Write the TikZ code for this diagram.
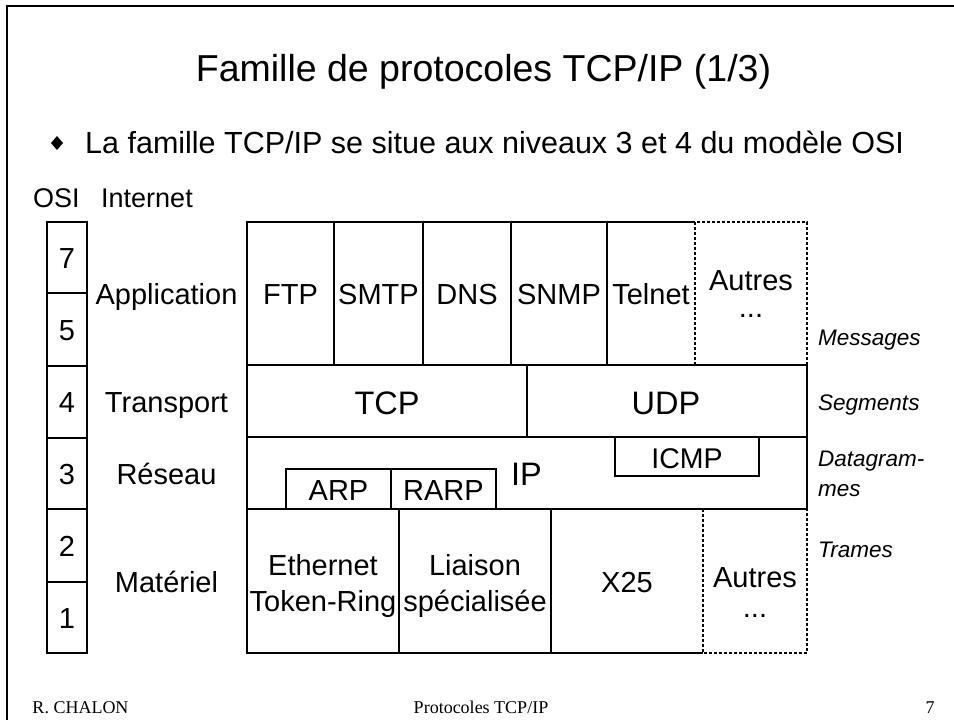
\documentclass[tikz,border=0pt]{standalone}
\usepackage{fontspec}
\setmainfont{Liberation Sans}
\newfontfamily\footfont{Liberation Serif}
\begin{document}
\begin{tikzpicture}[x=1pt,y=-1pt,
  txt/.style={inner sep=0pt, anchor=base},
  tleft/.style={inner sep=0pt, anchor=base west},
  cell/.style={txt, font=\fontsize{29}{34}\selectfont},
  big/.style={txt, font=\fontsize{32.5}{38}\selectfont},
  unit/.style={tleft, font=\fontsize{22.5}{26}\selectfont\itshape},
  foot/.style={txt, font=\footfont\fontsize{18}{21}\selectfont},
  grid/.style={line width=1.1pt, black},
  dotted box/.style={line width=1.1pt, black, dash pattern=on 3pt off 2pt},
  frame/.style={line width=2.6pt, black}]
\useasboundingbox (0,0) rectangle (954,720);
\fill[white] (0,0) rectangle (954,720);

% slide frame
\draw[frame] (7,720) -- (7,6) -- (954,6);

% title and bullet line
\node[txt, font=\fontsize{37.5}{44}\selectfont] (title) at (483.5,81) {Famille de protocoles TCP/IP (1/3)};
\fill (57,136) -- (63,143) -- (57,150) -- (51,143) -- cycle;
\node[tleft, font=\fontsize{30.5}{36}\selectfont] (bullet) at (85,153) {La famille TCP/IP se situe aux niveaux 3 et 4 du modèle OSI};

% column headers
\node[tleft, font=\fontsize{27}{32}\selectfont] (hosi) at (33,207) {OSI};
\node[tleft, font=\fontsize{27}{32}\selectfont] (hinet) at (101,207) {Internet};

% OSI layer column
\draw[grid] (47,222) rectangle (87,653);
\foreach \yy in {293,366,438,509,582} \draw[grid] (47,\yy) -- (87,\yy);
\node[cell] (o7) at (67,268) {7};
\node[cell] (o5) at (67,340) {5};
\node[cell] (o4) at (67,412) {4};
\node[cell] (o3) at (67,484) {3};
\node[cell] (o2) at (67,556) {2};
\node[cell] (o1) at (67,628) {1};

% Internet layer names
\node[cell] (lapp) at (166.5,304) {Application};
\node[cell] (ltra) at (166.5,412) {Transport};
\node[cell] (lres) at (166.5,484) {Réseau};
\node[cell] (lmat) at (166.5,592) {Matériel};

% application row
\draw[grid] (695,222) -- (247,222) -- (247,365) -- (807,365);
\foreach \xx in {334,423,511,607} \draw[grid] (\xx,222) -- (\xx,365);
\draw[dotted box] (695,365) -- (695,222) -- (807,222) -- (807,365);
\node[cell] (ftp) at (290.5,304) {FTP};
\node[cell] (smtp) at (378.5,304) {SMTP};
\node[cell] (dns) at (467,304) {DNS};
\node[cell] (snmp) at (559,304) {SNMP};
\node[cell] (telnet) at (651,304) {Telnet};
\node[cell] (autres1) at (751,290) {Autres};
\node[cell] (dots1) at (751,317) {...};

% transport row
\draw[grid] (247,365) rectangle (807,437);
\draw[grid] (527,365) -- (527,437);
\node[big] (tcp) at (387,414) {TCP};
\node[big] (udp) at (666,414) {UDP};

% network row
\draw[grid] (247,437) rectangle (807,509);
\draw[grid] (615,437) rectangle (759,476);
\draw[grid] (286,469) rectangle (391,509);
\draw[grid] (391,469) rectangle (496,509);
\node[big] (ip) at (526.5,485) {IP};
\node[cell, font=\fontsize{28.5}{34}\selectfont] (icmp) at (687,468) {ICMP};
\node[cell] (arp) at (338.5,500) {ARP};
\node[cell] (rarp) at (443.5,500) {RARP};

% hardware row
\draw[grid] (703,509) -- (247,509) -- (247,653) -- (703,653);
\foreach \xx in {399,551} \draw[grid] (\xx,509) -- (\xx,653);
\draw[dotted box] (703,509) -- (703,653) -- (807,653) -- (807,509);
\node[cell] (eth) at (323,575) {Ethernet};
\node[cell] (tok) at (323,611) {Token-Ring};
\node[cell] (lia) at (475,575) {Liaison};
\node[cell] (spe) at (475,611) {spécialisée};
\node[cell] (x25) at (627,592) {X25};
\node[cell] (autres2) at (755,587) {Autres};
\node[cell] (dots2) at (755,617) {...};

% data unit names
\node[unit] (umsg) at (818,345) {Messages};
\node[unit] (useg) at (818,410) {Segments};
\node[unit] (udg1) at (818,466) {Datagram-};
\node[unit] (udg2) at (818,496) {mes};
\node[unit] (utra) at (818,557) {Trames};

% footer
\node[foot] (fauth) at (80.5,713) {R. CHALON};
\node[foot] (fmid) at (481,713) {Protocoles TCP/IP};
\node[foot] (fpage) at (930,713) {7};
\end{tikzpicture}
\end{document}
